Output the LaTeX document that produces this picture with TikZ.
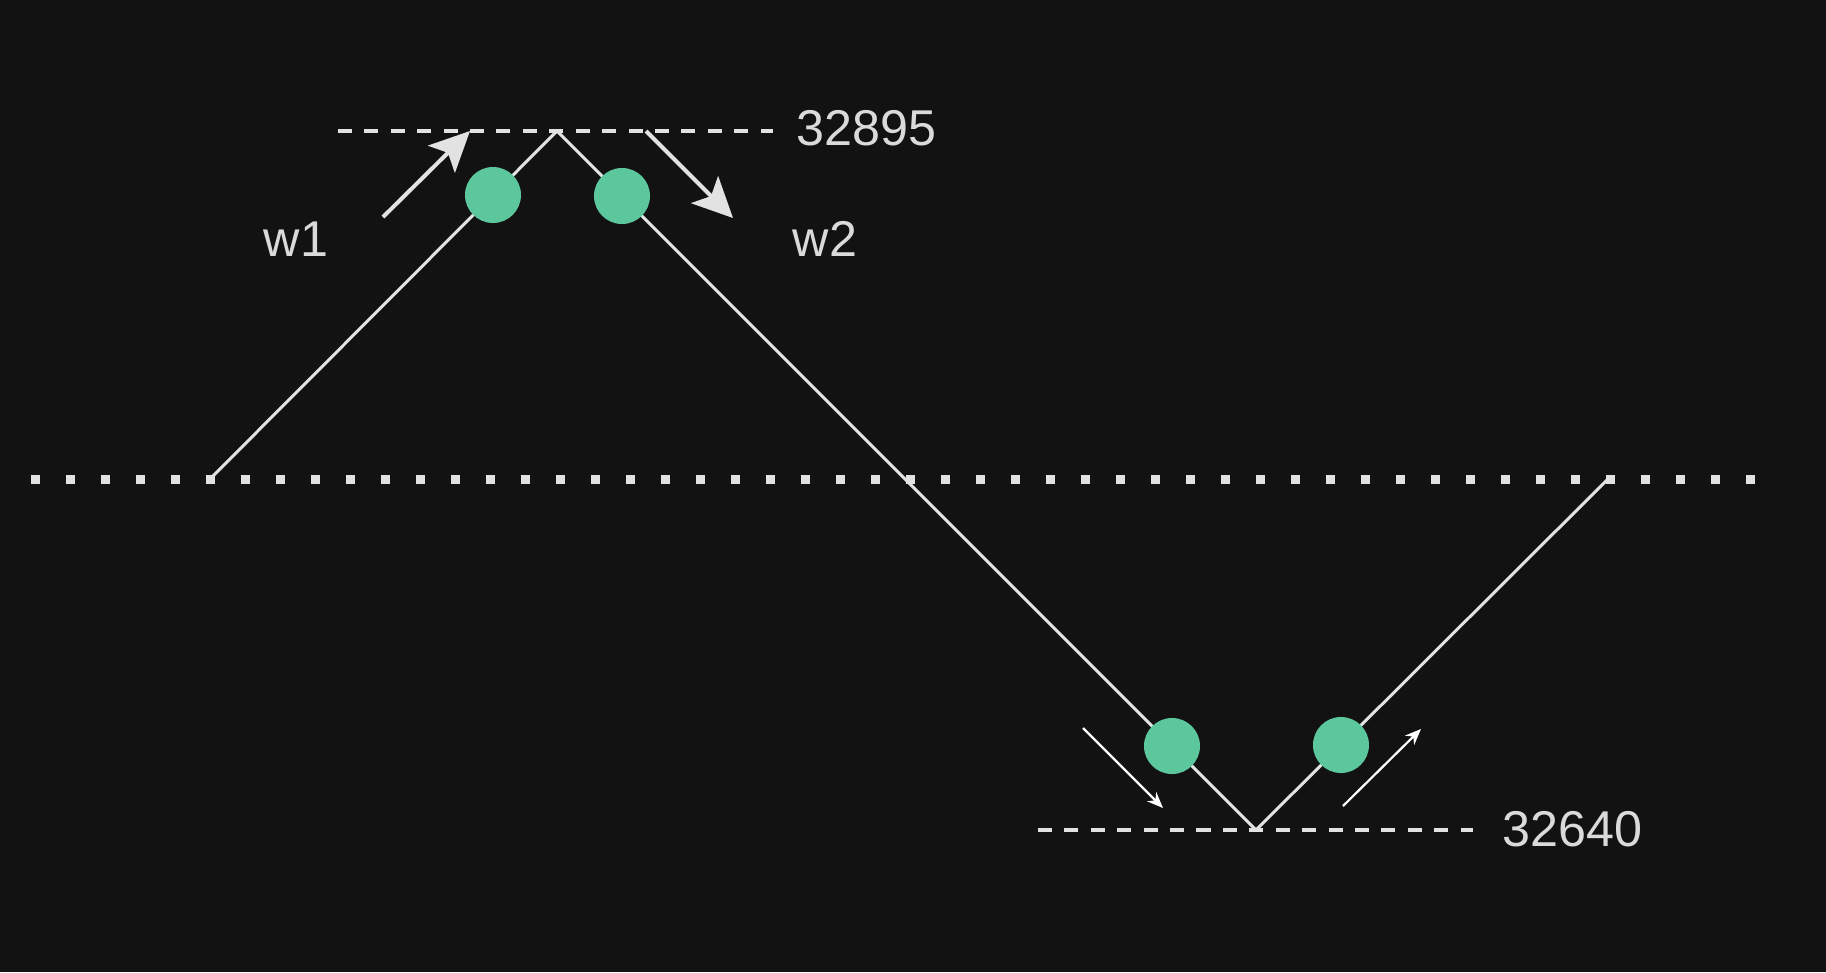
\documentclass[tikz,border=0pt]{standalone}
\usepackage{fontspec}
\setmainfont{Liberation Sans}
\usetikzlibrary{arrows.meta}
\definecolor{bg}{RGB}{18,18,18}
\definecolor{wire}{RGB}{226,226,226}
\definecolor{mint}{RGB}{92,198,156}
\definecolor{txt}{RGB}{218,218,218}
\tikzset{every picture/.style={x=0.01cm,y=-0.01cm}}
\tikzset{
  wave/.style={wire, line width=0.03cm, line join=round},
  level/.style={wire, line width=0.038cm, dash pattern=on 0.14cm off 0.124cm},
  axis/.style={wire, line width=0.09cm, dash pattern=on 0.09cm off 0.26cm},
  ball/.style={circle, fill=mint, minimum size=0.56cm, inner sep=0pt},
  lbl/.style={text=txt, font=\fontsize{14.3}{17}\selectfont, inner sep=0pt, anchor=west},
  bigarrow/.style={wire, line width=0.04cm, -{Stealth[length=0.4cm,width=0.38cm,inset=0.09cm]}},
  smallarrow/.style={white, line width=0.022cm, -{Stealth[length=0.16cm,width=0.13cm]}}
}

\begin{document}
\begin{tikzpicture}
    \fill [bg] (0, 0) rectangle (1826, 972);
    \useasboundingbox (0, 0) rectangle (1826, 972);
    % zero line and the two extremes
    \draw [axis] (30.5, 479) -- (1754.5, 479);
    \draw [level] (338, 131) -- (773, 131);
    \draw [level] (1038, 830) -- (1473, 830);
    % the wave
    \coordinate (start) at (210, 479);
    \coordinate (peak) at (557, 131);
    \coordinate (valley) at (1256, 830);
    \coordinate (stop) at (1608, 479);
    \draw [wave] (start) -- (peak) -- (valley) -- (stop);
    \node [ball] (upL) at (493, 195) {};
    \node [ball] (upR) at (622, 196) {};
    \node [ball] (downL) at (1172, 746) {};
    \node [ball] (downR) at (1341, 745) {};
    % directions
    \coordinate (w1a) at (383, 217);
    \coordinate (w1b) at (470, 131);
    \coordinate (w2a) at (646, 131);
    \coordinate (w2b) at (733, 218);
    \coordinate (dLa) at (1083, 728);
    \coordinate (dLb) at (1163, 808);
    \coordinate (dRa) at (1343, 806);
    \coordinate (dRb) at (1421, 729);
    \draw [bigarrow] (w1a) -- (w1b);
    \draw [bigarrow] (w2a) -- (w2b);
    \draw [smallarrow] (dLa) -- (dLb);
    \draw [smallarrow] (dRa) -- (dRb);
    \node [lbl] (w1) at (263, 239) {w1};
    \node [lbl] (w2) at (792, 239) {w2};
    \node [lbl] (hi) at (796, 128) {32895};
    \node [lbl] (lo) at (1502, 829) {32640};
\end{tikzpicture}
\end{document}
